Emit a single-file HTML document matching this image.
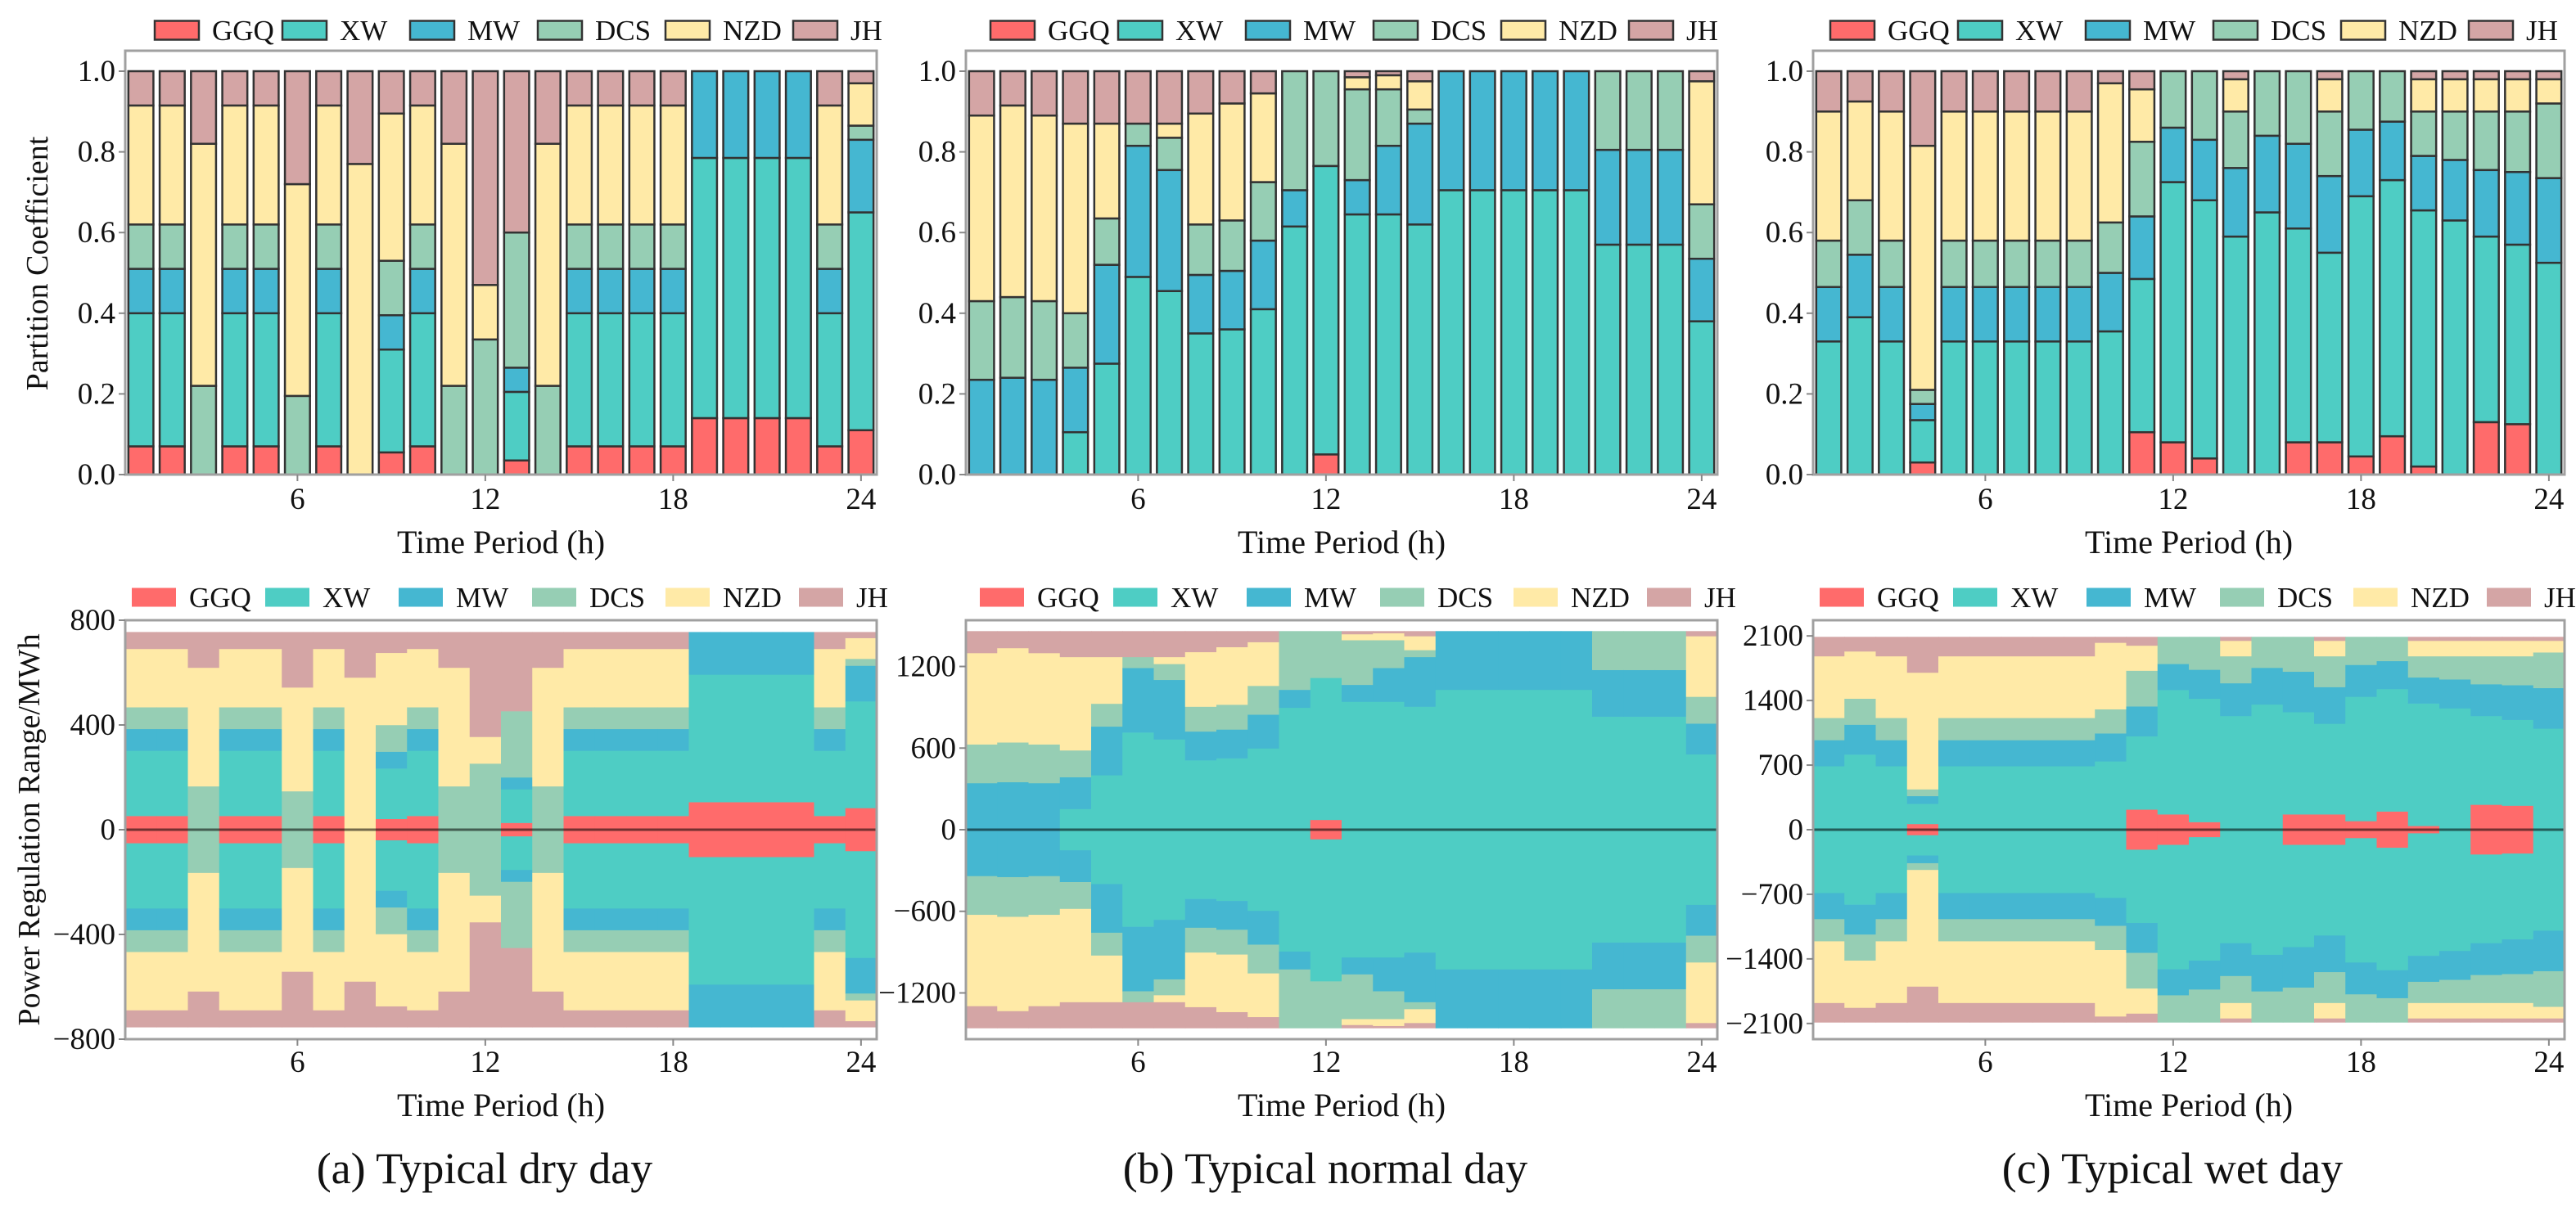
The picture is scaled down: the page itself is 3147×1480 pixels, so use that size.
<!DOCTYPE html>
<html><head><meta charset="utf-8">
<style>
html,body{margin:0;padding:0;background:#fff;}
svg{display:block;font-family:"Liberation Serif","Times New Roman",serif;}
</style></head>
<body>
<svg id="fig" width="3147" height="1480" viewBox="0 0 3147 1480" xmlns="http://www.w3.org/2000/svg"></svg>
<script>
// ---------- data ----------
const hours = [1,2,3,4,5,6,7,8,9,10,11,12,13,14,15,16,17,18,19,20,21,22,23,24];
const seriesNames = ["GGQ","XW","MW","DCS","NZD","JH"];
const xTicks = [6,12,18,24];
const topYTicks = [0,0.2,0.4,0.6,0.8,1.0];

// Typical dry day partition coefficients
const dryGGQ = [.07,.07,0,.07,.07,0,.07,0,.055,.07,0,0,.035,0,.07,.07,.07,.07,.14,.14,.14,.14,.07,.11];
const dryXW  = [.33,.33,0,.33,.33,0,.33,0,.255,.33,0,0,.17,0,.33,.33,.33,.33,.645,.645,.645,.645,.33,.54];
const dryMW  = [.11,.11,0,.11,.11,0,.11,0,.085,.11,0,0,.06,0,.11,.11,.11,.11,.215,.215,.215,.215,.11,.18];
const dryDCS = [.11,.11,.22,.11,.11,.195,.11,0,.135,.11,.22,.335,.335,.22,.11,.11,.11,.11,0,0,0,0,.11,.035];
const dryNZD = [.295,.295,.60,.295,.295,.525,.295,.77,.365,.295,.60,.135,0,.60,.295,.295,.295,.295,0,0,0,0,.295,.105];
const dryJH  = [.085,.085,.18,.085,.085,.28,.085,.23,.105,.085,.18,.53,.40,.18,.085,.085,.085,.085,0,0,0,0,.085,.03];

// Typical normal day
const normGGQ = [0,0,0,0,0,0,0,0,0,0,0,.05,0,0,0,0,0,0,0,0,0,0,0,0];
const normXW  = [0,0,0,.105,.275,.49,.455,.35,.36,.41,.615,.715,.645,.645,.62,.705,.705,.705,.705,.705,.57,.57,.57,.38];
const normMW  = [.235,.24,.235,.16,.245,.325,.30,.145,.145,.17,.09,0,.085,.17,.25,.295,.295,.295,.295,.295,.235,.235,.235,.155];
const normDCS = [.195,.20,.195,.135,.115,.055,.08,.125,.125,.145,.295,.235,.225,.14,.035,0,0,0,0,0,.195,.195,.195,.135];
const normNZD = [.46,.475,.46,.47,.235,0,.035,.275,.29,.22,0,0,.03,.035,.07,0,0,0,0,0,0,0,0,.305];
const normJH  = [.11,.085,.11,.13,.13,.13,.13,.105,.08,.055,0,0,.015,.01,.025,0,0,0,0,0,0,0,0,.025];

// Typical wet day
const wetGGQ = [0,0,0,.03,0,0,0,0,0,0,.105,.08,.04,0,0,.08,.08,.045,.095,.02,0,.13,.125,0];
const wetXW  = [.33,.39,.33,.105,.33,.33,.33,.33,.33,.355,.38,.645,.64,.59,.65,.53,.47,.645,.635,.635,.63,.46,.445,.525];
const wetMW  = [.135,.155,.135,.04,.135,.135,.135,.135,.135,.145,.155,.135,.15,.17,.19,.21,.19,.165,.145,.135,.15,.165,.18,.21];
const wetDCS = [.115,.135,.115,.035,.115,.115,.115,.115,.115,.125,.185,.14,.17,.14,.16,.18,.16,.145,.125,.11,.12,.145,.15,.185];
const wetNZD = [.32,.245,.32,.605,.32,.32,.32,.32,.32,.345,.13,0,0,.08,0,0,.08,0,0,.08,.08,.08,.08,.06];
const wetJH  = [.10,.075,.10,.185,.10,.10,.10,.10,.10,.03,.045,0,0,.02,0,0,.02,0,0,.02,.02,.02,.02,.02];

// Regulation range totals (MWh) and axis limits / ticks
const dryTotal = 755, normTotal = 1460, wetTotal = 2090;
const dryYTicks = [-800,-400,0,400,800];
const normYTicks = [-1200,-600,0,600,1200];
const wetYTicks = [-2100,-1400,-700,0,700,1400,2100];
const captions = ["(a) Typical dry day","(b) Typical normal day","(c) Typical wet day"];

// ---------- layout / style ----------
const colors = ["#FF6B6B","#4ECDC4","#45B7D1","#96CEB4","#FFEAA7","#D4A5A5"];
const panelLeft = [153,1180,2215];
const panelW = 918;
const topY0 = 580, topPerUnit = 493, topFrameTop = 62;
const botTop = 758, botBot = 1270, botZero = 1014;
const botLims = [800,1540,2270];
const NS = "http://www.w3.org/2000/svg";
const svg = document.getElementById("fig");

function mk(tag, attrs, parent){
  const e = document.createElementNS(NS, tag);
  for (const k in attrs) e.setAttribute(k, attrs[k]);
  (parent||svg).appendChild(e);
  return e;
}
function xScale(p, h){ return panelLeft[p] + (h - 0.5) / 24 * panelW; }
function topY(v){ return topY0 - v * topPerUnit; }
function botY(p, v){ return botZero - v / botLims[p] * (botZero - botTop); }

const panels = [
  {series:[dryGGQ,dryXW,dryMW,dryDCS,dryNZD,dryJH], total:dryTotal, yt:dryYTicks, key:"dry"},
  {series:[normGGQ,normXW,normMW,normDCS,normNZD,normJH], total:normTotal, yt:normYTicks, key:"normal"},
  {series:[wetGGQ,wetXW,wetMW,wetDCS,wetNZD,wetJH], total:wetTotal, yt:wetYTicks, key:"wet"}
];

function legend(p, y, withEdge, startOff, spacing){
  const g = mk("g", {});
  
  
  seriesNames.forEach((n, k) => {
    const x = panelLeft[p] + startOff + k * spacing;
    const r = mk("rect", {x:x, y:y-11.5, width:54, height:23, fill:colors[k],
      stroke: withEdge ? "#333" : "none", "stroke-width": withEdge ? 2.5 : 0}, g);
    
    
    const t = mk("text", {x:x+70, y:y+12, "font-size":35, fill:"#111"}, g);
    t.textContent = n;
    
    
  });
}

function xAxis(p, yBase, labelY, titleY){
  xTicks.forEach(h => {
    const x = xScale(p, h);
    const tk = mk("line", {x1:x, x2:x, y1:yBase, y2:yBase+8, stroke:"#888", "stroke-width":2});
    
    
    const t = mk("text", {x:x, y:labelY, "font-size":37, "text-anchor":"middle", fill:"#111"});
    t.textContent = h;
    
    
  });
  const tt = mk("text", {x:panelLeft[p]+panelW/2, y:titleY, "font-size":40, "text-anchor":"middle", fill:"#111"});
  tt.textContent = "Time Period (h)";
  
  
}

panels.forEach((P, p) => {
  // ----- top stacked bars -----
  const gTop = mk("g", {});
  
  
  const bw = panelW / 24 * 0.8;
  hours.forEach((h, i) => {
    let cum = 0;
    P.series.forEach((arr, k) => {
      const v = arr[i];
      if (v > 0) {
        const r = mk("rect", {x: xScale(p, h) - bw/2, y: topY(cum + v), width: bw,
          height: topY(cum) - topY(cum + v), fill: colors[k], stroke:"#333", "stroke-width":2.5}, gTop);
        
        
      }
      cum += v;
    });
  });
  const fr = mk("rect", {x:panelLeft[p], y:topFrameTop, width:panelW, height:topY0-topFrameTop,
    fill:"none", stroke:"#a0a0a0", "stroke-width":3});
  
  
  topYTicks.forEach(v => {
    const y = topY(v);
    const tk = mk("line", {x1:panelLeft[p]-8, x2:panelLeft[p], y1:y, y2:y, stroke:"#888", "stroke-width":2});
    
    
    const t = mk("text", {x:panelLeft[p]-12, y:y+12, "font-size":37, "text-anchor":"end", fill:"#111"});
    t.textContent = v.toFixed(1);
    
    
  });
  xAxis(p, topY0, 622, 676);
  legend(p, 37, true, [36,30,21][p], 156);

  // ----- bottom regulation range -----
  const gBot = mk("g", {});
  
  
  const cw = panelW / 24;
  hours.forEach((h, i) => {
    let cum = 0;
    P.series.forEach((arr, k) => {
      const v = arr[i] * P.total;
      if (v > 0) {
        const x0 = xScale(p, h) - cw/2;
        const up = mk("rect", {x:x0, y:botY(p, cum+v), width:cw+0.6,
          height:botY(p, cum)-botY(p, cum+v)+0.3, fill:colors[k]}, gBot);
        
        
        const dn = mk("rect", {x:x0, y:botY(p, -cum)-0.3, width:cw+0.6,
          height:botY(p, -cum-v)-botY(p, -cum)+0.3, fill:colors[k]}, gBot);
        
        
      }
      cum += v;
    });
  });
  const zl = mk("line", {x1:panelLeft[p], x2:panelLeft[p]+panelW, y1:botZero, y2:botZero,
    stroke:"#000", "stroke-opacity":0.55, "stroke-width":3});
  
  
  const fb = mk("rect", {x:panelLeft[p], y:botTop, width:panelW, height:botBot-botTop,
    fill:"none", stroke:"#a0a0a0", "stroke-width":3});
  
  
  P.yt.forEach(v => {
    const y = botY(p, v);
    const tk = mk("line", {x1:panelLeft[p]-8, x2:panelLeft[p], y1:y, y2:y, stroke:"#888", "stroke-width":2});
    
    
    const t = mk("text", {x:panelLeft[p]-12, y:y+12, "font-size":37, "text-anchor":"end", fill:"#111"});
    t.textContent = v < 0 ? "\u2212" + Math.abs(v) : String(v);
    
    
  });
  xAxis(p, botBot, 1310, 1364);
  legend(p, 730, false, [8,17,8][p], 163);

  const cap = mk("text", {x:panelLeft[p]+panelW/2-20, y:1446, "font-size":54, "text-anchor":"middle", fill:"#111"});
  cap.textContent = captions[p];
  
  
});

// y-axis titles
const yt1 = mk("text", {x:0, y:0, "font-size":38, "text-anchor":"middle", fill:"#111",
  transform:"translate(58,322) rotate(-90)"});
yt1.textContent = "Partition Coefficient";


const yt2 = mk("text", {x:0, y:0, "font-size":38, "text-anchor":"middle", fill:"#111",
  transform:"translate(48,1014) rotate(-90)"});
yt2.textContent = "Power Regulation Range/MWh";


</script>
</body></html>
